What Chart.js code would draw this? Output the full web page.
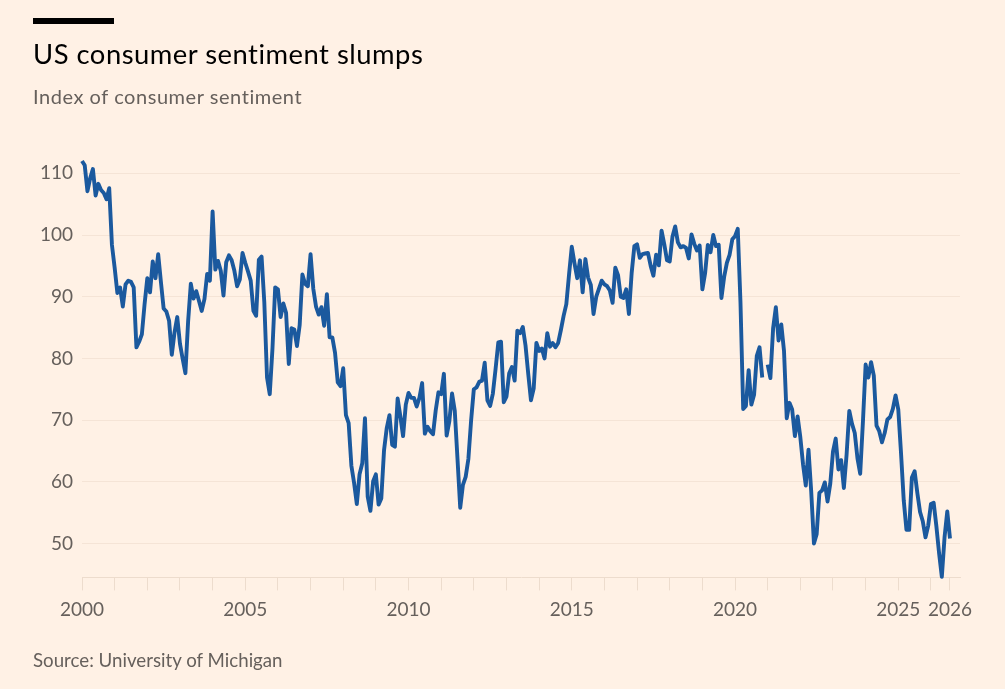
<!DOCTYPE html>
<html>
<head>
<meta charset="utf-8">
<script src="https://cdn.jsdelivr.net/npm/chart.js@4.4.1/dist/chart.umd.min.js"></script>
<style>
  html, body { margin: 0; padding: 0; background: #fff1e5; }
  #wrap { position: relative; width: 1005px; height: 689px; overflow: hidden; background: #fff1e5; font-family: Lato, "Open Sans", sans-serif; }
  #chart { position: absolute; left: 0; top: 0; }
  .bar { position: absolute; left: 33px; top: 18px; width: 81px; height: 6px; background: #000; }
  .txt { position: absolute; left: 33px; white-space: nowrap; line-height: 1; }
  #title { top: 39.5px; font-size: 27.4px; letter-spacing: 0.5px; color: #000; }
  #subtitle { top: 86px; font-size: 20px; letter-spacing: 0.55px; color: #66605c; }
  #source { top: 650.5px; font-size: 18.7px; color: #66605c; }
</style>
</head>
<body>
<div id="wrap">
  <canvas id="chart" width="1005" height="689"></canvas>
  <div class="bar"></div>
  <div class="txt" id="title">US consumer sentiment slumps</div>
  <div class="txt" id="subtitle">Index of consumer sentiment</div>
  <div class="txt" id="source">Source: University of Michigan</div>
</div>
<script>
// Monthly index, Jan 2000 onwards (null = no reading shown)
const startYear = 2000;
const sentiment = [
  112.0, 111.3, 107.1, 109.2, 110.7, 106.4, 108.3, 107.3, 106.8, 105.8, 107.6, 98.4,  // 2000
  94.7, 90.6, 91.5, 88.4, 92.0, 92.6, 92.4, 91.5, 81.8, 82.7, 83.9, 88.8,             // 2001
  93.0, 90.7, 95.7, 93.0, 96.9, 92.4, 88.1, 87.6, 86.1, 80.6, 84.2, 86.7,             // 2002
  82.4, 79.9, 77.6, 86.0, 92.1, 89.7, 90.9, 89.3, 87.7, 89.6, 93.7, 92.6,             // 2003
  103.8, 94.4, 95.8, 94.2, 90.2, 95.6, 96.7, 95.9, 94.2, 91.7, 92.8, 97.1,            // 2004
  95.5, 94.1, 92.6, 87.7, 86.9, 96.0, 96.5, 89.1, 76.9, 74.2, 81.6, 91.5,             // 2005
  91.2, 86.7, 88.9, 87.4, 79.1, 84.9, 84.7, 82.0, 85.4, 93.6, 92.1, 91.7,             // 2006
  96.9, 91.3, 88.4, 87.1, 88.3, 85.3, 90.4, 83.4, 83.4, 80.9, 76.1, 75.5,             // 2007
  78.4, 70.8, 69.5, 62.6, 59.8, 56.4, 61.2, 63.0, 70.3, 57.6, 55.3, 60.1,             // 2008
  61.2, 56.3, 57.3, 65.1, 68.7, 70.8, 66.0, 65.7, 73.5, 70.6, 67.4, 72.5,             // 2009
  74.4, 73.6, 73.6, 72.2, 73.6, 76.0, 67.8, 68.9, 68.2, 67.7, 71.6, 74.5,             // 2010
  74.2, 77.5, 67.5, 69.8, 74.3, 71.5, 63.7, 55.8, 59.5, 60.8, 63.7, 69.9,             // 2011
  75.0, 75.3, 76.2, 76.4, 79.3, 73.2, 72.3, 74.3, 78.3, 82.6, 82.7, 72.9,             // 2012
  73.8, 77.6, 78.6, 76.4, 84.5, 84.1, 85.1, 82.1, 77.5, 73.2, 75.1, 82.5,             // 2013
  81.2, 81.6, 80.0, 84.1, 81.9, 82.5, 81.8, 82.5, 84.6, 86.9, 88.8, 93.6,             // 2014
  98.1, 95.4, 93.0, 95.9, 90.7, 96.1, 93.1, 91.9, 87.2, 90.0, 91.3, 92.6,             // 2015
  92.0, 91.7, 91.0, 89.0, 94.7, 93.5, 90.0, 89.8, 91.2, 87.2, 93.8, 98.2,             // 2016
  98.5, 96.3, 96.9, 97.0, 97.1, 95.0, 93.4, 96.8, 95.1, 100.7, 98.5, 95.9,            // 2017
  95.7, 99.7, 101.4, 98.8, 98.0, 98.2, 97.9, 96.2, 100.1, 98.6, 97.5, 98.3,           // 2018
  91.2, 93.8, 98.4, 97.2, 100.0, 98.2, 98.4, 89.8, 93.2, 95.5, 96.8, 99.3,            // 2019
  99.8, 101.0, 89.1, 71.8, 72.3, 78.1, 72.5, 74.1, 80.4, 81.8, 76.9, null,            // 2020
  79.0, 76.8, 84.9, 88.3, 82.9, 85.5, 81.2, 70.3, 72.8, 71.7, 67.4, 70.6,             // 2021
  67.2, 62.8, 59.4, 65.2, 58.4, 50.0, 51.5, 58.2, 58.6, 59.9, 56.8, 59.7,             // 2022
  64.9, 67.0, 62.0, 63.5, 59.0, 64.4, 71.5, 69.4, 67.9, 63.8, 61.3, 69.7,             // 2023
  79.0, 76.9, 79.4, 77.2, 69.1, 68.2, 66.4, 67.9, 70.1, 70.5, 71.8, 74.0,             // 2024
  71.7, 64.7, 57.0, 52.2, 52.2, 60.7, 61.7, 58.2, 55.1, 53.6, 51.0, 52.9,             // 2025
  56.4, 56.6, 52.8, 48.4, 44.6, 51.0, 55.2, 50.8                                      // 2026
];
const xTickYears = [2000, 2001, 2002, 2003, 2004, 2005, 2006, 2007, 2008, 2009, 2010, 2011, 2012,
  2013, 2014, 2015, 2016, 2017, 2018, 2019, 2020, 2021, 2022, 2023, 2024, 2025, 2026];
const xLabelYears = [2000, 2005, 2010, 2015, 2020, 2025];
const endLabel = '2026';
const yTicks = [50, 60, 70, 80, 90, 100, 110];

const points = sentiment.map((v, i) => ({ x: startYear + i / 12, y: v }));
const lastX = points[points.length - 1].x;

const tickFont = { family: 'Lato, "Open Sans", sans-serif', size: 19 };
const tickColor = '#66605c';

new Chart(document.getElementById('chart'), {
  type: 'line',
  data: {
    datasets: [{
      data: points,
      borderColor: '#1b599e',
      borderWidth: 3.9,
      pointRadius: 0,
      pointHoverRadius: 0,
      tension: 0,
      spanGaps: false,
      borderJoinStyle: 'round',
      clip: false
    }]
  },
  options: {
    responsive: false,
    animation: false,
    events: [],
    layout: { padding: { left: 0, top: 157.9, right: 45, bottom: 71.6 } },
    plugins: { legend: { display: false }, tooltip: { enabled: false } },
    scales: {
      x: {
        type: 'linear',
        min: 2000,
        max: 2026.89,
        afterBuildTicks: (scale) => {
          scale.ticks = xTickYears.concat([lastX]).map(v => ({ value: v }));
        },
        afterFit: (scale) => { scale.height = 40; },
        ticks: {
          autoSkip: false,
          maxRotation: 0,
          minRotation: 0,
          padding: 8,
          color: tickColor,
          font: tickFont,
          callback: (value, index, ticks) => {
            if (index === ticks.length - 1) return endLabel;
            return xLabelYears.includes(value) ? String(value) : '';
          }
        },
        grid: {
          drawOnChartArea: false,
          drawTicks: true,
          tickLength: 13,
          color: '#eddccd',
          lineWidth: 1
        },
        border: { display: true, color: '#eddccd', width: 1 }
      },
      y: {
        min: 44.5,
        max: 112.5,
        afterBuildTicks: (scale) => {
          scale.ticks = yTicks.map(v => ({ value: v }));
        },
        afterFit: (scale) => { scale.width = 82; },
        ticks: {
          padding: 9,
          color: tickColor,
          font: tickFont,
          crossAlign: 'near'
        },
        grid: {
          drawTicks: false,
          color: '#f5e4d6',
          lineWidth: 1
        },
        border: { display: false }
      }
    }
  }
});
</script>
</body>
</html>
